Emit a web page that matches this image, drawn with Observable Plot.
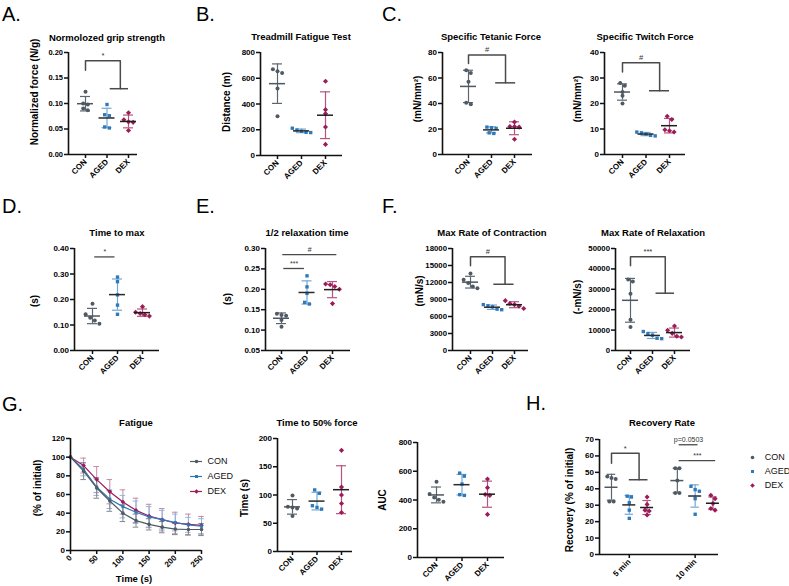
<!DOCTYPE html>
<html><head><meta charset="utf-8">
<script src="https://cdn.jsdelivr.net/npm/d3@7"></script>
<script src="https://cdn.jsdelivr.net/npm/@observablehq/plot@0.6"></script>
<style>
body{margin:0;background:#fff;}
#fig{position:relative;width:789px;height:586px;overflow:hidden;background:#fff;font-family:"Liberation Sans",Arial,Helvetica,sans-serif;color:#000;}
.abs{position:absolute;white-space:nowrap;line-height:1;}
.letter{font-size:20px;font-weight:normal;}
.title{font-size:9.5px;font-weight:bold;transform:translate(-50%,-50%);}
.ylab{font-size:10px;font-weight:bold;transform:translate(-50%,-50%) rotate(-90deg);}
.xlab{font-size:9.5px;font-weight:bold;transform:translate(-50%,-50%);}
.panel{position:absolute;overflow:visible;line-height:0;}
</style></head><body><div id="fig"></div>
<script>
// ---------------- DATA ----------------
const groups = ["CON", "AGED", "DEX"];

// A. Normalized grip strength (N/g)
const gripCON = [0.123, 0.100, 0.098, 0.090, 0.087];
const gripAGED = [0.098, 0.078, 0.076, 0.054, 0.052];
const gripDEX = [0.082, 0.068, 0.064, 0.063, 0.047];
const gripTicks = [0, 0.05, 0.10, 0.15, 0.20];

// B. Treadmill distance (m)
const treadCON = [670, 655, 640, 520, 305];
const treadAGED = [212, 198, 188, 180, 178];
const treadDEX = [577, 356, 325, 221, 86];
const treadTicks = [0, 200, 400, 600, 800];

// C. Specific tetanic / twitch force (mN/mm2)
const tetCON = [66, 64, 57, 40.5, 39.5];
const tetAGED = [21.5, 21, 20.5, 17, 16.5];
const tetDEX = [25.5, 22, 22, 21.5, 12];
const tetTicks = [0, 20, 40, 60, 80];
const twCON = [28, 27, 24.5, 23, 20];
const twAGED = [8.8, 8.5, 8, 7.5, 7.3];
const twDEX = [15, 13.7, 9.7, 9.3, 8.8];
const twTicks = [0, 10, 20, 30, 40];

// D. Time to max (s)
const ttmCON = [0.183, 0.142, 0.128, 0.118, 0.105];
const ttmAGED = [0.288, 0.270, 0.218, 0.178, 0.142];
const ttmDEX = [0.172, 0.150, 0.145, 0.140, 0.135];
const ttmTicks = [0, 0.10, 0.20, 0.30, 0.40];

// E. 1/2 relaxation time (s)
const relCON = [0.140, 0.137, 0.135, 0.125, 0.108];
const relAGED = [0.233, 0.206, 0.190, 0.168, 0.164];
const relDEX = [0.213, 0.211, 0.207, 0.200, 0.165];
const relTicks = [0.05, 0.10, 0.15, 0.20, 0.25, 0.30];

// F. Max rate of contraction / relaxation
const mrcCON = [13600, 12500, 11900, 11300, 11000];
const mrcAGED = [8100, 7900, 7700, 7300, 7200];
const mrcDEX = [8800, 8300, 8100, 7800, 7400];
const mrcTicks = [0, 3000, 6000, 9000, 12000, 15000, 18000];
const mrrCON = [34800, 33800, 27800, 15100, 11500];
const mrrAGED = [9300, 8300, 7500, 6000, 5800];
const mrrDEX = [12000, 9900, 8400, 7000, 6600];
const mrrTicks = [0, 10000, 20000, 30000, 40000, 50000];

// G. Fatigue (% of initial), mean and SD
const fatigueTime = [0, 25, 50, 75, 100, 125, 150, 175, 200, 225, 250];
const fatCON = [100, 85, 67, 53, 40, 32, 28, 25, 23, 22.5, 22.5];
const fatAGED = [100, 87, 68, 55, 47, 41, 36, 33, 30, 27.5, 26];
const fatDEX = [100, 91, 76, 63, 52, 43, 37, 33, 29.5, 28, 27];
const fatCONsd = [0, 9, 11, 11, 9, 7, 6, 6, 6, 6, 6.5];
const fatAGEDsd = [0, 7, 9, 10, 12, 12, 11, 10, 9, 8, 8];
const fatDEXsd = [0, 8, 14, 13, 13, 13, 12.5, 12, 11.5, 11, 9.5];
const fatXTicks = [0, 50, 100, 150, 200, 250];
const fatYTicks = [0, 20, 40, 60, 80, 100, 120];

const t50CON = [99, 79, 78, 76, 63];
const t50AGED = [109, 103, 81, 78, 75];
const t50DEX = [179, 114, 100, 85, 69];
const t50Ticks = [0, 50, 100, 150, 200];

const aucCON = [527, 441, 418, 402, 388];
const aucAGED = [587, 566, 511, 437, 432];
const aucDEX = [546, 486, 438, 432, 300];
const aucTicks = [0, 200, 400, 600, 800];

// H. Recovery rate (% of initial)
const recTimes = ["5 min", "10 min"];
const rec5CON = [47.5, 46.5, 46, 32.3, 32.3];
const rec5AGED = [35.5, 35, 31.5, 27, 22];
const rec5DEX = [35, 30.5, 27, 26.5, 24];
const rec10CON = [52.5, 52.5, 45, 37.5, 37.5];
const rec10AGED = [41.5, 39.5, 38.5, 34, 24.5];
const rec10DEX = [36, 34, 31, 28, 27];
const recTicks = [0, 10, 20, 30, 40, 50, 60, 70];

// Significance annotations (data units)
const sigA = [{x: 0, lo: 0.165, top: 0.184, xm: 1.62, drop: 0.129, bar: [1.15, 2.0], label: "*"}];
const sigC1 = [{x: 0, lo: 71.4, top: 78, xm: 1.61, drop: 56.2, bar: [1.18, 2.05], label: "#"}];
const sigC2 = [{x: 0, lo: 32.4, top: 36, xm: 1.58, drop: 25, bar: [1.15, 2.0], label: "#"}];
const sigD = [{x1: 0.09, x2: 0.9, y: 0.367, label: "*"}];
const sigE = [{x1: 0.09, x2: 0.9, y: 0.251, label: "***"}, {x1: 0.05, x2: 2.17, y: 0.285, label: "#"}];
const sigF1 = [{x: 0, lo: 14960, top: 16540, xm: 1.57, drop: 11690, bar: [1.06, 1.98], label: "#"}];
const sigF2 = [{x: 0, lo: 41560, top: 45950, xm: 1.58, drop: 28090, bar: [1.16, 2.0], label: "***"}];
const sigH = [{x: 0, lo: 55.6, top: 61.7, xm: 1.55, drop: 45.5, bar: [1.0, 2.05], label: "*"}];
const sigHlines = [{x1: 3.8, x2: 4.86, y: 66.8, label: "p=0.0503"}, {x1: 3.8, x2: 5.85, y: 57.2, label: "***"}];

// ---------------- STYLE ----------------
const FONT = "'Liberation Sans', Arial, Helvetica, sans-serif";
const COLORS = {CON: "#505a64", AGED: "#2f79b9", DEX: "#9c1b59"};
const SDCOL = {CON: "#5d666f", AGED: "#72a8d6", DEX: "#b3557f"};
const MEANCOL = {CON: "#4e565f", AGED: "#2a2a2a", DEX: "#1e1e1e"};
const FSD = {CON: "#7f878e", AGED: "#8dbadf", DEX: "#c88aa5"};
const SYM = {CON: "circle", AGED: "square", DEX: "diamond2"};
const SYMR = {CON: 2, AGED: 1.9, DEX: 2.3};
const ANN = "#4a4a4a";
const fig = document.getElementById("fig");

function addText(cls, text, x, y) {
  const d = document.createElement("div");
  d.className = "abs " + cls;
  d.textContent = text;
  d.style.left = x + "px"; d.style.top = y + "px";
  fig.appendChild(d);
}
function place(svg, left, top) {
  const d = document.createElement("div");
  d.className = "panel";
  d.style.left = left + "px"; d.style.top = top + "px";
  d.appendChild(svg);
  fig.appendChild(d);
}
function swarm(py, thresh, step) {
  const idx = py.map((_, i) => i).sort((a, b) => py[a] - py[b]);
  const offs = new Array(py.length).fill(0);
  let cl = [idx[0]];
  const flush = () => { const n = cl.length; cl.forEach((k, j) => offs[k] = (j - (n - 1) / 2) * step); };
  for (let j = 1; j < idx.length; j++) {
    if (py[idx[j]] - py[idx[j - 1]] < thresh) cl.push(idx[j]);
    else { flush(); cl = [idx[j]]; }
  }
  flush();
  return offs;
}
const baseStyle = (fs) => ({fontFamily: FONT, fontSize: fs + "px", fontWeight: "bold", overflow: "visible", background: "none", maxWidth: "none"});

function dotPanel(cfg) {
  const L = cfg.layout;
  const ML = 46, MR = 12, MT = 20, MB = 40;
  const W = L.xEnd - L.axisX, H = L.bottom - L.top;
  const xd = [(L.axisX - L.x0px) / L.unit, (L.xEnd - L.x0px) / L.unit];
  const [y0, y1] = cfg.ydomain;
  const toPx = v => (1 - (v - y0) / (y1 - y0)) * H;
  const meanHalf = (cfg.meanHalf || 8) / L.unit, capHalf = (cfg.capHalf || 5) / L.unit;
  const marks = [];
  cfg.cells.forEach(c => {
    const offs = swarm(c.vals.map(toPx), 3.6, cfg.spread || 4.6);
    const pts = c.vals.map((v, i) => ({x: c.x + offs[i] / L.unit, v}));
    const m = d3.mean(c.vals), sd = d3.deviation(c.vals);
    const st = [{x: c.x, m, lo: m - sd, hi: m + sd}];
    const sc = SDCOL[c.g];
    marks.push(
      Plot.ruleX(st, {x: "x", y1: "lo", y2: "hi", stroke: sc, strokeWidth: 1.2}),
      Plot.ruleY(st, {y: "lo", x1: d => d.x - capHalf, x2: d => d.x + capHalf, stroke: sc, strokeWidth: 1.2}),
      Plot.ruleY(st, {y: "hi", x1: d => d.x - capHalf, x2: d => d.x + capHalf, stroke: sc, strokeWidth: 1.2}),
      Plot.dot(pts, {x: "x", y: "v", r: SYMR[c.g], fill: COLORS[c.g], symbol: SYM[c.g]}),
      Plot.ruleY(st, {y: "m", x1: d => d.x - meanHalf, x2: d => d.x + meanHalf, stroke: MEANCOL[c.g], strokeWidth: 1.5})
    );
  });
  (cfg.brackets || []).forEach(b => {
    marks.push(
      Plot.line([[b.x, b.lo], [b.x, b.top], [b.xm, b.top], [b.xm, b.drop]], {x: d => d[0], y: d => d[1], stroke: ANN, strokeWidth: 1.5}),
      Plot.ruleY([b], {y: "drop", x1: d => d.bar[0], x2: d => d.bar[1], stroke: ANN, strokeWidth: 1.5}),
      Plot.text([b], {x: d => (d.x + d.xm) / 2, y: "top", text: "label", dy: -5, fontSize: 7.5, fontWeight: "normal", fill: "#333"})
    );
  });
  (cfg.lines || []).forEach(l => {
    marks.push(
      Plot.ruleY([l], {y: "y", x1: "x1", x2: "x2", stroke: ANN, strokeWidth: 1.3}),
      Plot.text([l], {x: d => (d.x1 + d.x2) / 2, y: "y", text: "label", dy: -5, fontSize: 7, fontWeight: "normal", fill: "#333"})
    );
  });
  const lab = new Map(cfg.xticks.map((t, i) => [t, cfg.xlabels[i]]));
  marks.push(
    Plot.ruleX([xd[0]], {stroke: "#111", strokeWidth: 1.6}),
    Plot.ruleY([y0], {stroke: "#111", strokeWidth: 1.6}),
    Plot.axisY({ticks: cfg.yticks, tickFormat: cfg.fmt, tickSize: 4, tickPadding: 1.5, stroke: "#111", strokeWidth: 1.5, label: null}),
    Plot.axisX({ticks: cfg.xticks, tickFormat: d => lab.get(d), tickRotate: -45, tickSize: 4, tickPadding: 2, stroke: "#111", strokeWidth: 1.5, label: null, fontSize: 8})
  );
  const svg = Plot.plot({
    width: ML + W + MR, height: MT + H + MB,
    marginLeft: ML, marginRight: MR, marginTop: MT, marginBottom: MB,
    x: {domain: xd}, y: {domain: cfg.ydomain},
    style: baseStyle(cfg.tickFont || 8),
    marks
  });
  place(svg, L.axisX - ML, L.top - MT);
}

function catCells(con, aged, dex) {
  const v = {CON: con, AGED: aged, DEX: dex};
  return groups.map((g, i) => ({g, x: i, vals: v[g]}));
}
const catArgs = {xticks: [0, 1, 2], xlabels: groups};
const f2 = d3.format(".2f");
const fi = d => String(d);

// Panels A-F, G2, G3
dotPanel({...catArgs, layout: {axisX: 68, top: 52, bottom: 154, xEnd: 137, x0px: 85, unit: 21.5},
  cells: catCells(gripCON, gripAGED, gripDEX), ydomain: [0, 0.2], yticks: gripTicks, fmt: f2, brackets: sigA, tickFont: 7.5});
dotPanel({...catArgs, layout: {axisX: 260, top: 52, bottom: 155, xEnd: 342, x0px: 277, unit: 24},
  cells: catCells(treadCON, treadAGED, treadDEX), ydomain: [0, 800], yticks: treadTicks, fmt: fi});
dotPanel({...catArgs, layout: {axisX: 442, top: 52, bottom: 154, xEnd: 532, x0px: 468, unit: 23},
  cells: catCells(tetCON, tetAGED, tetDEX), ydomain: [0, 80], yticks: tetTicks, fmt: fi, brackets: sigC1});
dotPanel({...catArgs, layout: {axisX: 604, top: 52, bottom: 154, xEnd: 685, x0px: 622, unit: 23.5},
  cells: catCells(twCON, twAGED, twDEX), ydomain: [0, 40], yticks: twTicks, fmt: fi, brackets: sigC2});
dotPanel({...catArgs, layout: {axisX: 74, top: 248, bottom: 350, xEnd: 159, x0px: 92, unit: 25},
  cells: catCells(ttmCON, ttmAGED, ttmDEX), ydomain: [0, 0.4], yticks: ttmTicks, fmt: f2, lines: sigD});
dotPanel({...catArgs, layout: {axisX: 265, top: 248, bottom: 350, xEnd: 350, x0px: 281, unit: 25.5},
  cells: catCells(relCON, relAGED, relDEX), ydomain: [0.05, 0.3], yticks: relTicks, fmt: f2, lines: sigE});
dotPanel({...catArgs, layout: {axisX: 452, top: 248, bottom: 350, xEnd: 528, x0px: 470, unit: 22},
  cells: catCells(mrcCON, mrcAGED, mrcDEX), ydomain: [0, 18000], yticks: mrcTicks, fmt: fi, brackets: sigF1, tickFont: 7.8});
dotPanel({...catArgs, layout: {axisX: 615, top: 248, bottom: 350, xEnd: 690, x0px: 630, unit: 22},
  cells: catCells(mrrCON, mrrAGED, mrrDEX), ydomain: [0, 50000], yticks: mrrTicks, fmt: fi, brackets: sigF2, tickFont: 7.8});
dotPanel({...catArgs, layout: {axisX: 277, top: 438, bottom: 551, xEnd: 352, x0px: 292, unit: 24.5},
  cells: catCells(t50CON, t50AGED, t50DEX), ydomain: [0, 200], yticks: t50Ticks, fmt: fi});
dotPanel({...catArgs, layout: {axisX: 417, top: 442, bottom: 557, xEnd: 504, x0px: 436, unit: 25.5},
  cells: catCells(aucCON, aucAGED, aucDEX), ydomain: [0, 800], yticks: aucTicks, fmt: fi});

// H. grouped
(function () {
  const vals = {"5 min": {CON: rec5CON, AGED: rec5AGED, DEX: rec5DEX}, "10 min": {CON: rec10CON, AGED: rec10AGED, DEX: rec10DEX}};
  const gap = 3.7;
  const cells = [];
  recTimes.forEach((t, ti) => groups.forEach((g, k) => cells.push({g, x: ti * gap + k, vals: vals[t][g]})));
  dotPanel({layout: {axisX: 599, top: 439, bottom: 554, xEnd: 718, x0px: 611, unit: 17.8},
    cells, xticks: recTimes.map((t, ti) => ti * gap + 1), xlabels: recTimes,
    ydomain: [0, 70], yticks: recTicks, fmt: fi, brackets: sigH, lines: sigHlines,
    meanHalf: 6.5, capHalf: 4.2, spread: 4.2});
})();

// G1 fatigue
(function () {
  const L = {axisX: 70, top: 438, bottom: 550, xEnd: 201};
  const ML = 40, MR = 10, MT = 10, MB = 32;
  const W = L.xEnd - L.axisX, H = L.bottom - L.top;
  const unit = W / 250;
  const capHalf = 2.8 / unit;
  const mean = {CON: fatCON, AGED: fatAGED, DEX: fatDEX};
  const sd = {CON: fatCONsd, AGED: fatAGEDsd, DEX: fatDEXsd};
  const rows = {};
  groups.forEach(g => rows[g] = fatigueTime.map((t, i) => ({t, m: mean[g][i], sd: sd[g][i]})));
  const marks = [];
  ["DEX", "AGED", "CON"].forEach(g => {
    const r = rows[g].filter(d => d.sd > 0);
    marks.push(
      Plot.ruleX(r, {x: "t", y1: d => d.m - d.sd, y2: d => d.m + d.sd, stroke: FSD[g], strokeWidth: 1}),
      Plot.ruleY(r, {y: d => d.m + d.sd, x1: d => d.t - capHalf, x2: d => d.t + capHalf, stroke: FSD[g], strokeWidth: 1}),
      Plot.ruleY(r, {y: d => d.m - d.sd, x1: d => d.t - capHalf, x2: d => d.t + capHalf, stroke: FSD[g], strokeWidth: 1})
    );
  });
  ["DEX", "AGED", "CON"].forEach(g => marks.push(Plot.line(rows[g], {x: "t", y: "m", stroke: COLORS[g], strokeWidth: 1.2})));
  ["DEX", "AGED", "CON"].forEach(g => marks.push(Plot.dot(rows[g], {x: "t", y: "m", r: SYMR[g] * 0.9, fill: COLORS[g], symbol: SYM[g]})));
  marks.push(
    Plot.ruleX([0], {stroke: "#111", strokeWidth: 1.6}),
    Plot.ruleY([0], {stroke: "#111", strokeWidth: 1.6}),
    Plot.axisY({ticks: fatYTicks, tickSize: 4, tickPadding: 1.5, stroke: "#111", strokeWidth: 1.5, label: null}),
    Plot.axisX({ticks: fatXTicks, tickSize: 4, tickPadding: 2, tickRotate: -45, stroke: "#111", strokeWidth: 1.5, label: null})
  );
  const svg = Plot.plot({
    width: ML + W + MR, height: MT + H + MB, marginLeft: ML, marginRight: MR, marginTop: MT, marginBottom: MB,
    x: {domain: [0, 250]}, y: {domain: [0, 120]}, style: baseStyle(8), marks
  });
  place(svg, L.axisX - ML, L.top - MT);
})();

// Legends
function legend(left, firstY, gap, withLine, dotX, textX) {
  const rows = groups.map(g => ({g}));
  const marks = [];
  groups.forEach(g => {
    const r = rows.filter(d => d.g === g);
    if (withLine) marks.push(Plot.ruleY(r, {y: "g", x1: () => 0, x2: () => 12, stroke: COLORS[g], strokeWidth: 1.2}));
    marks.push(Plot.dot(r, {x: () => dotX, y: "g", r: SYMR[g] * 0.9, fill: COLORS[g], symbol: SYM[g]}));
    marks.push(Plot.text(r, {x: () => textX, y: "g", text: "g", textAnchor: "start", fontSize: 9, fontWeight: "normal", fill: "#111"}));
  });
  const svg = Plot.plot({
    width: 60, height: 2 * gap + 16, margin: 0,
    x: {domain: [0, 60], range: [0, 60], axis: null},
    y: {type: "point", domain: groups, range: [8, 8 + 2 * gap], padding: 0, axis: null},
    style: baseStyle(9), marks
  });
  place(svg, left, firstY - 8);
}
legend(190, 461, 15, true, 6, 17);
legend(748, 456, 14.5, false, 4, 16.3);

// Text: panel letters, titles, axis labels
[["A.", 2, 4], ["B.", 196, 4], ["C.", 382, 4], ["D.", 2, 196], ["E.", 196, 196], ["F.", 382, 196], ["G.", 2, 394], ["H.", 526, 393]]
  .forEach(([t, x, y]) => addText("letter", t, x, y));
[["Normolozed grip strength", 107, 38], ["Treadmill Fatigue Test", 301, 37], ["Specific Tetanic Force", 491, 37],
 ["Specific Twitch Force", 645, 37], ["Time to max", 117, 233], ["1/2 relaxation time", 307, 233],
 ["Max Rate of Contraction", 492, 233], ["Max Rate of Relaxation", 653, 233], ["Fatigue", 136, 423],
 ["Time to 50% force", 317, 423], ["Recovery Rate", 662, 423]]
  .forEach(([t, x, y]) => addText("title", t, x, y));
[["Normalized force (N/g)", 35, 92], ["Distance (m)", 227, 102], ["(mN/mm²)", 418, 99], ["(mN/mm²)", 578, 99],
 ["(s)", 35, 301], ["(s)", 228, 299], ["(mN/s)", 420, 291], ["(-mN/s)", 578, 297],
 ["(% of initial)", 38, 488], ["Time (s)", 245, 498], ["AUC", 383, 500], ["Recovery (% of initial)", 570, 500]]
  .forEach(([t, x, y]) => addText("ylab", t, x, y));
addText("xlab", "Time (s)", 134, 579);
</script></body></html>
